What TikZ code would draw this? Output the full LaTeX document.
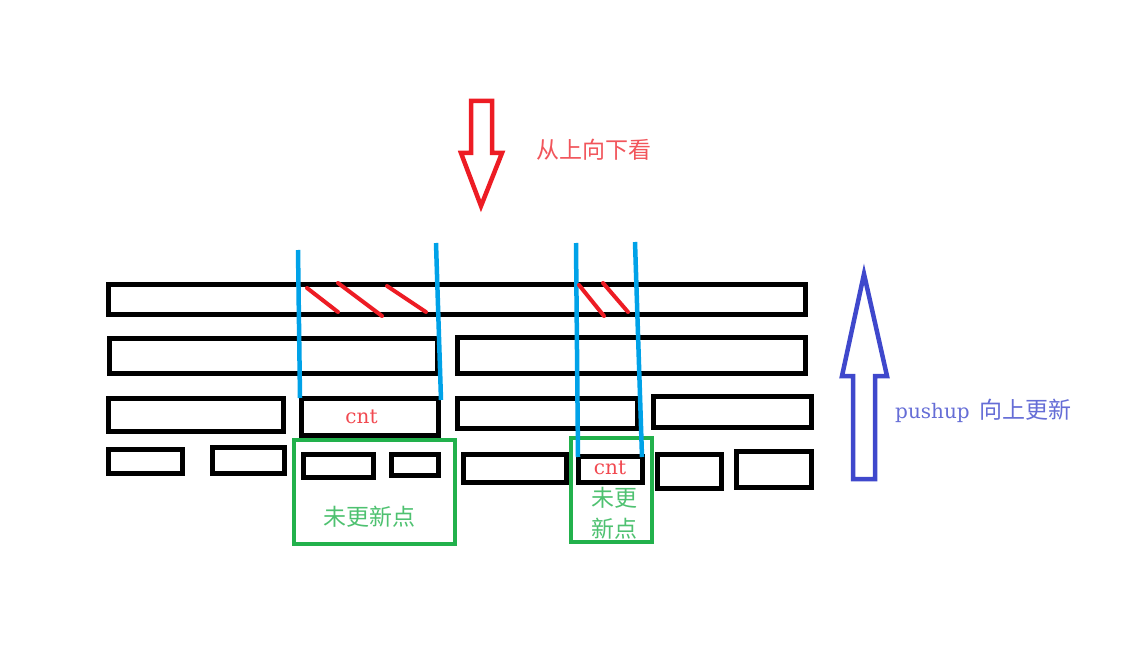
\documentclass[tikz,border=0pt]{standalone}
\usepackage{fontspec}
\newfontfamily\cjk{Noto Sans CJK SC}
\newfontfamily\latn{DejaVu Serif}
\usepackage{tikz}
\definecolor{paintred}{HTML}{ED1C24}
\definecolor{paintcyan}{HTML}{00A2E8}
\definecolor{paintgreen}{HTML}{22B14C}
\definecolor{paintblue}{HTML}{3F48CC}

\begin{document}
\begin{tikzpicture}[x=1pt,y=-1pt]
  \tikzset{BoxStyle/.style = {
    shape         = rectangle,
    draw          = black,
    fill          = none,
    line width    = 5pt,
    text          = paintred!80!white,
    inner sep     = 0pt,
    outer sep     = 0pt,
    font          = \latn\fontsize{20}{20}\selectfont
    }
  }
  \tikzset{MarkBoxStyle/.style = {
    shape         = rectangle,
    draw          = paintgreen,
    line width    = 4.5pt,
    inner sep     = 0pt,
    outer sep     = 0pt
    }
  }
  \tikzset{CutStyle/.style = {
    draw          = paintcyan,
    line width    = 4.5pt
    }
  }
  \tikzset{HatchStyle/.style = {
    draw          = paintred,
    line width    = 4pt,
    line cap      = round
    }
  }
  \tikzset{LabelStyle/.style = {
    inner sep     = 0pt,
    font          = \cjk\fontsize{23}{31}\selectfont
    }
  }

  \useasboundingbox (0,0) rectangle (1130,647);

  % tree levels, top to bottom
  \node[BoxStyle, minimum width=697pt, minimum height=30pt](A1) at (456.5, 299) {};
  \node[BoxStyle, minimum width=328pt, minimum height=35pt](B1) at (273.5, 355.5) {};
  \node[BoxStyle, minimum width=348pt, minimum height=36pt](B2) at (631, 355) {};
  \node[BoxStyle, minimum width=175pt, minimum height=33pt](C1) at (195.5, 415) {};
  \node[BoxStyle, minimum width=137pt, minimum height=37pt](C2) at (369.5, 416.5) {\hspace*{-16pt}cnt};
  \node[BoxStyle, minimum width=180pt, minimum height=30pt](C3) at (547, 413) {};
  \node[BoxStyle, minimum width=158pt, minimum height=31pt](C4) at (732, 411.5) {};
  \node[BoxStyle, minimum width=74pt, minimum height=24pt](D1) at (145, 461) {};
  \node[BoxStyle, minimum width=72pt, minimum height=26pt](D2) at (248, 460) {};
  \node[BoxStyle, minimum width=70pt, minimum height=23pt](D3) at (338, 465.5) {};
  \node[BoxStyle, minimum width=47pt, minimum height=21pt](D4) at (414.5, 464.5) {};
  \node[BoxStyle, minimum width=103pt, minimum height=28pt](D5) at (514.5, 468) {};
  \node[BoxStyle, minimum width=64pt, minimum height=26pt](D6) at (610, 469) {\raisebox{3pt}{cnt}};
  \node[BoxStyle, minimum width=64pt, minimum height=34pt](D7) at (689, 471) {};
  \node[BoxStyle, minimum width=75pt, minimum height=36pt](D8) at (773.5, 469) {};

  % not yet updated
  \node[MarkBoxStyle, minimum width=161pt, minimum height=104pt](G1) at (374.5, 492) {};
  \node[MarkBoxStyle, minimum width=81pt, minimum height=104pt](G2) at (611.5, 490) {};
  \node[LabelStyle, text=paintgreen!80!white](G1Text) at (369, 517) {未更新点};
  \node[LabelStyle, text=paintgreen!80!white, align=center](G2Text) at (614, 513) {未更\\新点};

  % query borders
  \coordinate (L1Top) at (298, 250);
  \coordinate (L1Bot) at (300, 398);
  \coordinate (L2Top) at (436, 243);
  \coordinate (L2Bot) at (441, 400);
  \coordinate (R1Top) at (576, 243);
  \coordinate (R1Bot) at (578, 457);
  \coordinate (R2Top) at (635, 242);
  \coordinate (R2Bot) at (642, 457);
  \draw[CutStyle](L1Top) -- (L1Bot);
  \draw[CutStyle](L2Top) -- (L2Bot);
  \draw[CutStyle](R1Top) -- (R1Bot);
  \draw[CutStyle](R2Top) -- (R2Bot);

  % hatching on the root
  \draw[HatchStyle](307, 288) -- (338, 312);
  \draw[HatchStyle](338, 283) -- (382, 316);
  \draw[HatchStyle](387, 286) -- (426, 312);
  \draw[HatchStyle](579, 285) -- (604, 316);
  \draw[HatchStyle](603, 283) -- (628, 312);

  % look down
  \draw[draw=paintred, line width=4.5pt, line join=miter]
    (471, 101) -- (492, 101) -- (492, 153) -- (502, 153) -- (481, 206)
    -- (461, 153) -- (471, 153) -- cycle;
  \node[LabelStyle, text=paintred!75!white, anchor=west](DownText) at (536, 150) {从上向下看};

  % push up
  \draw[draw=paintblue, line width=4.5pt, line join=miter]
    (864, 274) -- (887, 376) -- (875, 376) -- (875, 479) -- (853, 479)
    -- (853, 376) -- (842, 376) -- cycle;
  \node[LabelStyle, text=paintblue!80!white, anchor=west](UpText) at (895, 411)
    {\latn\fontsize{20}{20}\selectfont pushup\hspace{10pt}\cjk\fontsize{23}{23}\selectfont 向上更新};

\end{tikzpicture}
\end{document}
